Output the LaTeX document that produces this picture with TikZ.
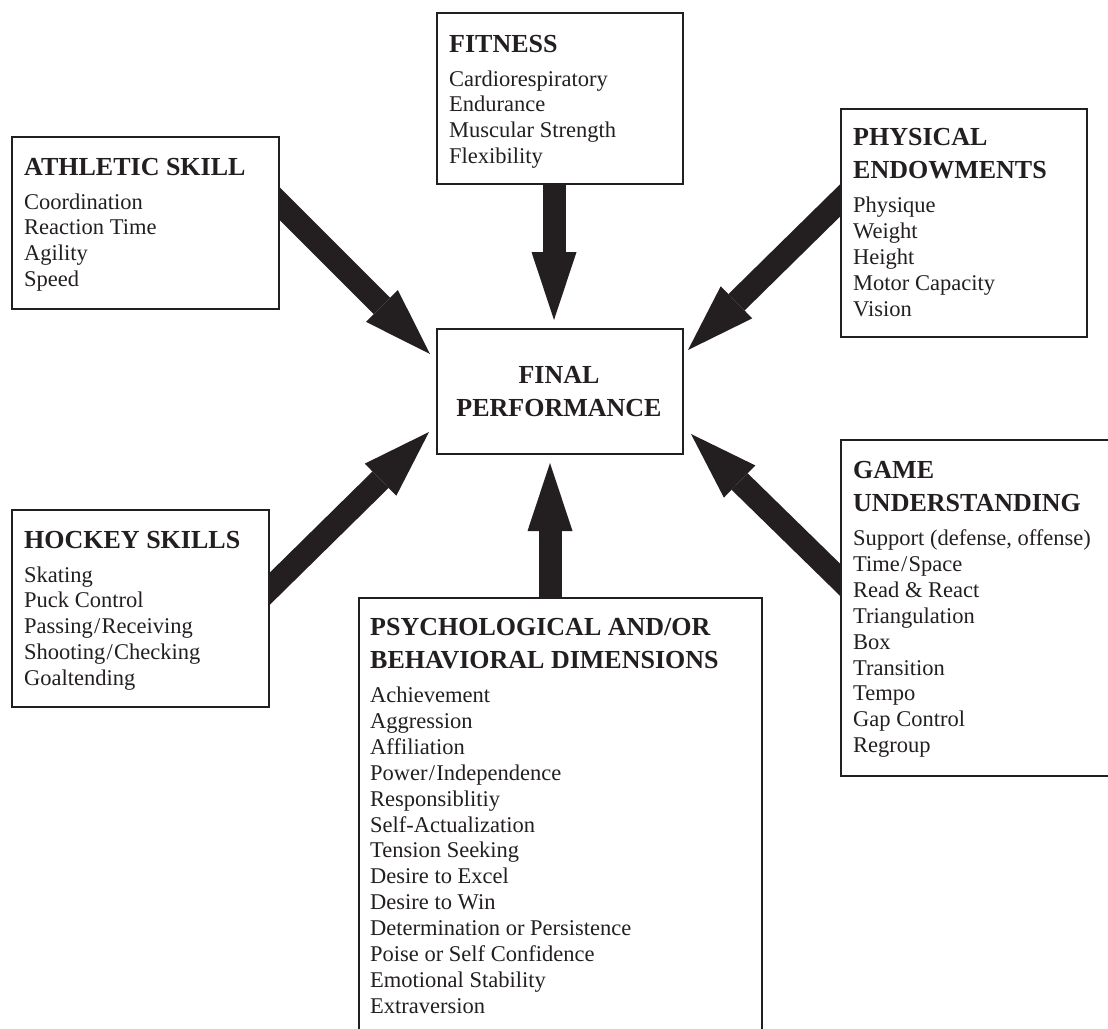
\documentclass[tikz,border=0pt]{standalone}
\usepackage{fontspec}
\setmainfont{Liberation Serif}
\usetikzlibrary{arrows.meta,backgrounds}
\definecolor{ink}{HTML}{231F20}
\newcommand\titf{\fontsize{26}{33.5}\selectfont\bfseries}
\newcommand\bodf{\fontsize{22.5}{25.9}\selectfont\mdseries}
\newcommand\boxtext[3]{\begin{minipage}[t]{#1}\raggedright\titf #2\par\vspace{8.1pt}\bodf #3\par\end{minipage}}
\newcommand\slsh{\kern1.2pt/\kern1.2pt}
\tikzset{
  boxst/.style={draw=ink, line width=2.2pt, fill=white, inner sep=0pt, anchor=north west},
  txtst/.style={anchor=base west, inner sep=0pt, text=ink},
  bigarrow/.style={draw=ink, line width=23pt, -{Triangle[length=68pt,width=45pt,line width=0pt]}}
}
\begin{document}
\begin{tikzpicture}[x=1pt,y=1pt]
\useasboundingbox (0,0) rectangle (1108,-1028);
\clip (0,0) rectangle (1108,-1028);
% boxes
\node[boxst, minimum width=246pt, minimum height=171pt] (fit) at (436,-12) {};
\node[boxst, minimum width=267pt, minimum height=172pt] (ath) at (11,-136) {};
\node[boxst, minimum width=246pt, minimum height=228pt] (phy) at (840,-108) {};
\node[boxst, minimum width=246pt, minimum height=125pt] (fin) at (436,-328) {};
\node[boxst, minimum width=257pt, minimum height=197pt] (hoc) at (11,-509) {};
\node[boxst, minimum width=403pt, minimum height=460pt] (psy) at (358,-597) {};
\node[boxst, minimum width=300pt, minimum height=336pt] (gam) at (840,-439) {};
% texts
\node[txtst] (fitT) at (449,-52) {\boxtext{240pt}{FITNESS}{Cardiorespiratory\\Endurance\\Muscular Strength\\Flexibility}};
\node[txtst] (athT) at (24,-175) {\boxtext{250pt}{ATHLETIC SKILL}{Coordination\\Reaction Time\\Agility\\Speed}};
\node[txtst] (phyT) at (853,-145) {\boxtext{240pt}{PHYSICAL\\ENDOWMENTS}{Physique\\Weight\\Height\\Motor Capacity\\Vision}};
\node[txtst] (hocT) at (24,-548) {\boxtext{250pt}{HOCKEY SKILLS}{Skating\\Puck Control\\Passing\slsh Receiving\\Shooting\slsh Checking\\Goaltending}};
\node[txtst] (psyT) at (370,-635) {\boxtext{390pt}{PSYCHOLOGICAL AND/OR\\BEHAVIORAL DIMENSIONS}{Achievement\\Aggression\\Affiliation\\Power\slsh Independence\\Responsiblitiy\\Self-Actualization\\Tension Seeking\\Desire to Excel\\Desire to Win\\Determination or Persistence\\Poise or Self Confidence\\Emotional Stability\\Extraversion}};
\node[txtst] (gamT) at (853,-478) {\boxtext{300pt}{GAME\\UNDERSTANDING}{Support (defense, offense)\\Time\slsh Space\\Read \& React\\Triangulation\\Box\\Transition\\Tempo\\Gap Control\\Regroup}};
\node[anchor=base, inner sep=0pt, text=ink] (finT) at (559,-383) {\begin{minipage}[t]{240pt}\centering\titf FINAL\\PERFORMANCE\end{minipage}};
% arrow end points
\coordinate (fitS) at (554,-150); \coordinate (fitE) at (554,-320);
\coordinate (athS) at (250,-174); \coordinate (athE) at (430,-354);
\coordinate (phyS) at (870,-171); \coordinate (phyE) at (688,-350);
\coordinate (hocS) at (240,-618); \coordinate (hocE) at (429,-432);
\coordinate (psyS) at (550,-630); \coordinate (psyE) at (550,-463);
\coordinate (gamS) at (870,-609); \coordinate (gamE) at (691,-434);
\begin{pgfonlayer}{background}
\fill[white] (0,0) rectangle (1108,-1028);
\draw[bigarrow] (fitS) -- (fitE);
\draw[bigarrow] (athS) -- (athE);
\draw[bigarrow] (phyS) -- (phyE);
\draw[bigarrow] (hocS) -- (hocE);
\draw[bigarrow] (psyS) -- (psyE);
\draw[bigarrow] (gamS) -- (gamE);
\end{pgfonlayer}
\end{tikzpicture}
\end{document}
